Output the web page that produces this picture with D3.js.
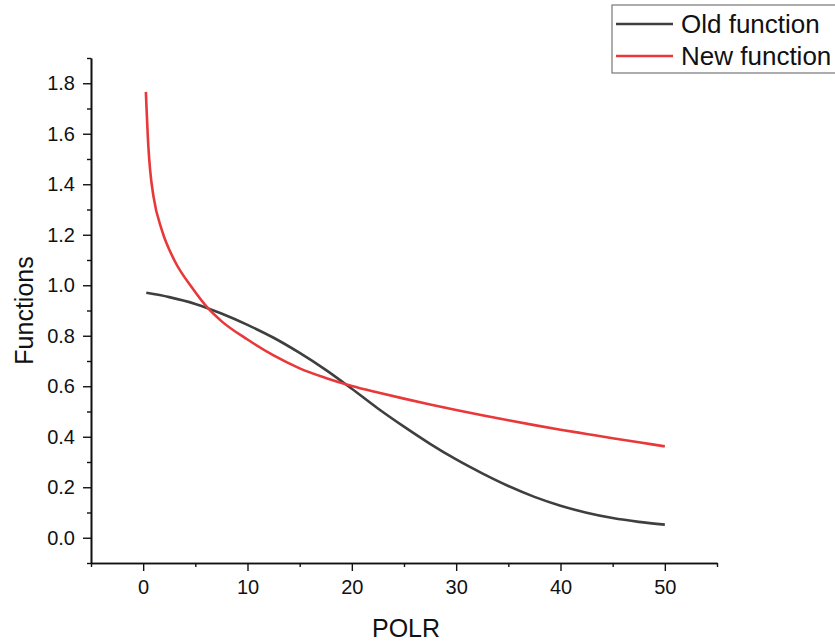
<!DOCTYPE html>
<html>
<head>
<meta charset="utf-8">
<script src="https://cdn.jsdelivr.net/npm/d3@7"></script>
<style>
  body { margin: 0; background: #fff; }
  text { font-family: "Liberation Sans", Arial, sans-serif; fill: #111; }
</style>
</head>
<body>
<div id="graphic"></div>
<script>
// values
const oldX = [0.3, 2.5, 5, 7.5, 10, 12.5, 15, 17.5, 20, 22.5, 25, 27.5, 30, 32.5, 35, 37.5, 40, 42.5, 45, 47.5, 50];
const oldY = [0.970, 0.953, 0.926, 0.888, 0.843, 0.792, 0.732, 0.665, 0.590, 0.512, 0.440, 0.372, 0.310, 0.255, 0.205, 0.162, 0.127, 0.099, 0.078, 0.063, 0.052];

const newX = [0.26, 0.5, 0.67, 1, 1.8, 3, 4.66, 6.26, 7.5, 10, 12.5, 15, 17.5, 20, 22.5, 25, 27.5, 30, 32.5, 35, 37.5, 40, 42.5, 45, 47.5, 50];
const newY = [1.766, 1.548, 1.455, 1.349, 1.217, 1.098, 0.992, 0.907, 0.858, 0.785, 0.722, 0.671, 0.633, 0.601, 0.575, 0.551, 0.528, 0.506, 0.485, 0.465, 0.446, 0.428, 0.411, 0.394, 0.378, 0.362];

const xTicks = [0, 10, 20, 30, 40, 50];
const xMinor = [-5, 5, 15, 25, 35, 45, 55];
const yTicks = [0.0, 0.2, 0.4, 0.6, 0.8, 1.0, 1.2, 1.4, 1.6, 1.8];
const yMinor = [-0.1, 0.1, 0.3, 0.5, 0.7, 0.9, 1.1, 1.3, 1.5, 1.7, 1.9];

const seriesNames = ["Old function", "New function"];
const seriesColors = ["#3f3f3f", "#e8383a"];

// set the dimensions and margins of the graph
const margin = {top: 58, right: 118, bottom: 80, left: 91};
const width = 835 - margin.left - margin.right;
const height = 643 - margin.top - margin.bottom;

const root = d3.select("#graphic")
    .append("svg")
    .attr("width", 835)
    .attr("height", 643);

const svg = root.append("g")
    .attr("transform", `translate(${margin.left}, ${margin.top})`);

const x = d3.scaleLinear().domain([-5, 55]).range([0, width]);
const y = d3.scaleLinear().domain([-0.1, 1.9]).range([height, 0]);

// x axis
const xAxis = svg.append("g")
    .attr("transform", `translate(0, ${height})`)
    .call(d3.axisBottom(x).tickValues(xTicks).tickFormat(d3.format("d")).tickSizeInner(8).tickSizeOuter(0).tickPadding(9));
xAxis.append("g")
    .call(d3.axisBottom(x).tickValues(xMinor).tickFormat("").tickSizeInner(4).tickSizeOuter(0));

// y axis
const yAxis = svg.append("g")
    .call(d3.axisLeft(y).tickValues(yTicks).tickFormat(d3.format(".1f")).tickSizeInner(8).tickSizeOuter(0).tickPadding(8));
yAxis.append("g")
    .call(d3.axisLeft(y).tickValues(yMinor).tickFormat("").tickSizeInner(4).tickSizeOuter(0));

svg.selectAll(".domain").attr("stroke", "#111").attr("stroke-width", 1.6);
svg.selectAll(".tick line").attr("stroke", "#111").attr("stroke-width", 1.4);
svg.selectAll(".tick text").style("font-size", "20px").style("font-family", "'Liberation Sans', Arial, sans-serif").attr("fill", "#111");

// axis titles
svg.append("text")
    .attr("x", width / 2 + 2)
    .attr("y", height + 74)
    .attr("text-anchor", "middle")
    .style("font-size", "25px")
    .text("POLR");

svg.append("text")
    .attr("transform", `translate(${33 - margin.left}, ${height / 2}) rotate(-90)`)
    .attr("text-anchor", "middle")
    .style("font-size", "25px")
    .text("Functions");

// lines
const line = d3.line()
    .x(d => x(d[0]))
    .y(d => y(d[1]))
    .curve(d3.curveMonotoneX);

const series = [
    d3.zip(oldX, oldY),
    d3.zip(newX, newY)
];

svg.selectAll(".series")
    .data(series)
    .join("path")
    .attr("class", "series")
    .attr("fill", "none")
    .attr("stroke", (d, i) => seriesColors[i])
    .attr("stroke-width", 2.6)
    .attr("d", line);

// legend
const legend = root.append("g").attr("transform", "translate(612, 5)");
legend.append("rect")
    .attr("x", 0).attr("y", 0)
    .attr("width", 240).attr("height", 68)
    .attr("fill", "#fff")
    .attr("stroke", "#777")
    .attr("stroke-width", 1.2);

const item = legend.selectAll(".item")
    .data(seriesNames)
    .join("g")
    .attr("class", "item")
    .attr("transform", (d, i) => `translate(0, ${19 + i * 32})`);

item.append("line")
    .attr("x1", 4).attr("x2", 61)
    .attr("stroke", (d, i) => seriesColors[i])
    .attr("stroke-width", 2.6);

item.append("text")
    .attr("x", 69)
    .attr("dy", "0.35em")
    .style("font-size", "26px")
    .text(d => d);
</script>
</body>
</html>
